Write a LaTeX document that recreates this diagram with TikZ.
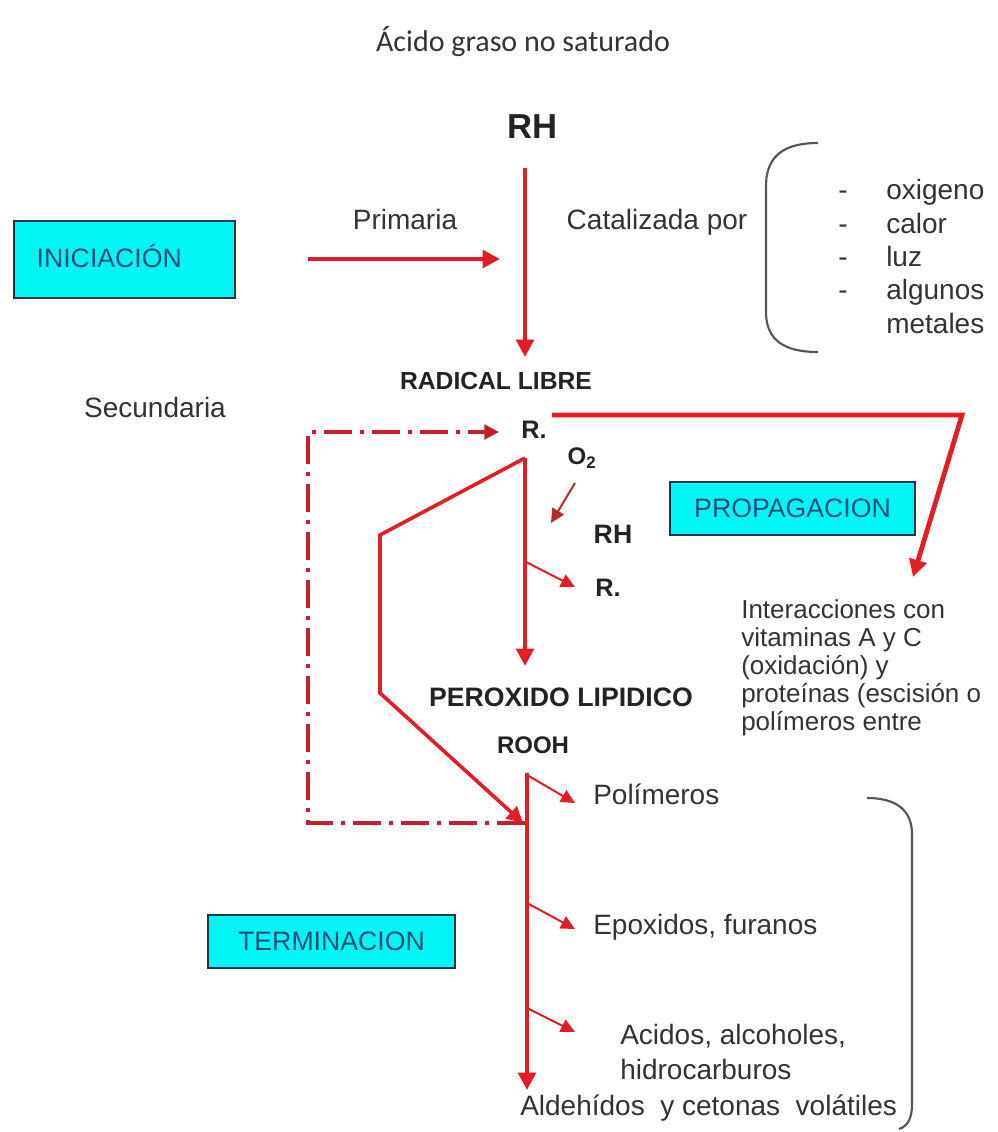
\documentclass[tikz,border=0pt]{standalone}
\usepackage{fontspec}
\usepackage{graphicx}
\setmainfont{Liberation Sans}
\newfontfamily\calfont{Carlito}
\usetikzlibrary{arrows.meta}
\definecolor{arrred}{RGB}{226,30,36}
\definecolor{ddred}{RGB}{196,32,44}
\definecolor{o2red}{RGB}{180,45,45}
\definecolor{txt}{RGB}{51,51,51}
\definecolor{btxt}{RGB}{35,35,35}
\definecolor{cyanbox}{RGB}{0,245,245}
\definecolor{boxedge}{RGB}{30,55,70}
\definecolor{boxtxt}{RGB}{31,78,121}
\definecolor{brk}{RGB}{85,85,85}
\begin{document}
\begin{tikzpicture}[x=0.75pt,y=-0.75pt,
  lbl/.style={text=txt,inner sep=0pt,font=\fontsize{21}{25}\selectfont},
  sline/.style={lbl,text height=15pt,text depth=4pt},
  blbl/.style={text=btxt,inner sep=0pt,font=\fontsize{19}{22}\selectfont\bfseries},
  phase/.style={draw=boxedge,fill=cyanbox,line width=1.5pt,text=boxtxt,font=\fontsize{20}{24}\selectfont},
  mainarr/.style={draw=arrred,line width=3.6pt,-{Triangle[length=13pt,width=13pt]}},
  polyarr/.style={draw=arrred,line width=2.7pt,-{Triangle[length=12pt,width=12pt]}},
  thinarr/.style={draw=arrred,line width=1.5pt,-{Triangle[length=10.5pt,width=10pt]}},
  o2arr/.style={draw=o2red,line width=1.5pt,-{Triangle[length=10.5pt,width=10pt]}},
  ddarr/.style={draw=ddred,line width=2.5pt,dash pattern=on 21pt off 6pt on 3pt off 6pt,-{Triangle[length=11pt,width=11pt]}},
  bracket/.style={draw=brk,line width=1.6pt}
]
\useasboundingbox[fill=white] (0,0) rectangle (998,1132);

% phase boxes
\node[phase,minimum width=165.75pt,minimum height=57.75pt,inner xsep=17pt,text width=131.75pt,align=left,text height=14pt,text depth=2pt] (ini) at (124.5,259) {INICIACIÓN};
\node[phase,minimum width=183.75pt,minimum height=39.75pt,inner sep=0pt] (prop) at (792.5,508.5) {PROPAGACION};
\node[phase,minimum width=185.25pt,minimum height=39.75pt,inner sep=0pt] (term) at (331.5,941.5) {TERMINACION};

% texts
\node[text=txt,inner sep=0pt,font=\calfont\fontsize{22.5}{26}\selectfont] (tit) at (523,42) {Ácido graso no saturado};
\node[text=btxt,inner sep=0pt,font=\fontsize{26}{30}\selectfont\bfseries] (rh0) at (533,127) {RH};
\node[sline] (prim) at (405,222) {Primaria};
\node[sline] (cat) at (657,222) {Catalizada por};

\node[sline] (d1) at (843,192) {-};
\node[sline] (d2) at (843,226) {-};
\node[sline] (d3) at (843,259) {-};
\node[sline] (d4) at (843,292) {-};
\node[sline,anchor=west] (i1) at (886,192) {oxigeno};
\node[sline,anchor=west] (i2) at (886,226) {calor};
\node[sline,anchor=west] (i3) at (886,259) {luz};
\node[sline,anchor=west] (i4) at (886,292) {algunos};
\node[sline,anchor=west] (i5) at (886,326) {metales};

\node[blbl,font=\fontsize{18.5}{22}\selectfont\bfseries] (rad) at (496,381) {RADICAL LIBRE};
\node[sline] (sec) at (155,410) {Secundaria};
\node[blbl] (r1) at (534,430) {R.};
\node[blbl,font=\fontsize{18}{22}\selectfont\bfseries] (o2) at (582,458) {O\textsubscript{2}};
\node[blbl,font=\fontsize{20}{22}\selectfont\bfseries] (rh1) at (613,534) {RH};
\node[blbl] (r2) at (608,588) {R.};

\node[lbl,anchor=north west,align=left,font=\fontsize{19.5}{21}\selectfont] (inter) at (741,599) {Interacciones con\\vitaminas A y C\\(oxidación) y\\proteínas (escisión o\\polímeros entre};

\node[blbl,font=\fontsize{20}{24}\selectfont\bfseries] (perox) at (561,697) {PEROXIDO LIPIDICO};
\node[blbl,font=\fontsize{18}{22}\selectfont\bfseries] (rooh) at (533,745) {ROOH};

\node[sline,anchor=west] (pol) at (593,797) {Polímeros};
\node[sline,anchor=west] (epo) at (593,927) {Epoxidos, furanos};
\node[lbl,anchor=north west,align=left,font=\fontsize{21}{26}\selectfont] (aci) at (620,1024) {Acidos, alcoholes,\\hidrocarburos};
\node[sline,anchor=west] (ald) at (520,1108) {Aldehídos~ y cetonas~ volátiles};

% connector coordinates
\coordinate (a1s) at (525,168);
\coordinate (a1e) at (525,357);
\coordinate (pa) at (308,259);
\coordinate (pb) at (500,259);
\coordinate (u1) at (552,415);
\coordinate (u2) at (962,415);
\coordinate (u3) at (913,577);
\coordinate (dd0) at (525,823);
\coordinate (dd1) at (308,823);
\coordinate (dd2) at (308,432);
\coordinate (dd3) at (499,432);
\coordinate (v0) at (525,458);
\coordinate (v1) at (525,666);
\coordinate (q1) at (380,535);
\coordinate (q2) at (380,693);
\coordinate (q3) at (523,823);
\coordinate (o2a) at (575,483);
\coordinate (o2b) at (551,523);
\coordinate (b0a) at (526,562);
\coordinate (b0b) at (575,587);
\coordinate (m0) at (527,773);
\coordinate (m1) at (527,1090);
\coordinate (b1a) at (527,775);
\coordinate (b1b) at (575,803);
\coordinate (b2a) at (527,903);
\coordinate (b2b) at (575,929);
\coordinate (b3a) at (527,1008);
\coordinate (b3b) at (575,1032);

% connectors
\draw[mainarr] (a1s) -- (a1e);
\draw[mainarr] (pa) -- (pb);
\draw[mainarr] (u1) -- (u2) -- (u3);
\draw[ddarr] (dd0) -- (dd1) -- (dd2) -- (dd3);
\draw[polyarr] (v0) -- (q1) -- (q2) -- (q3);
\draw[mainarr] (v0) -- (v1);
\draw[o2arr] (o2a) -- (o2b);
\draw[thinarr] (b0a) -- (b0b);
\draw[mainarr] (m0) -- (m1);
\draw[thinarr] (b1a) -- (b1b);
\draw[thinarr] (b2a) -- (b2b);
\draw[thinarr] (b3a) -- (b3b);

% brackets
\draw[bracket] (818,143) .. controls (784,143) and (766,156) .. (766,186) -- (766,312) .. controls (766,340) and (784,352) .. (818,352);
\draw[bracket] (867,798) .. controls (896,798) and (912,810) .. (912,834) -- (912,1104) .. controls (912,1118) and (908,1126) .. (899,1129);
\end{tikzpicture}
\end{document}
